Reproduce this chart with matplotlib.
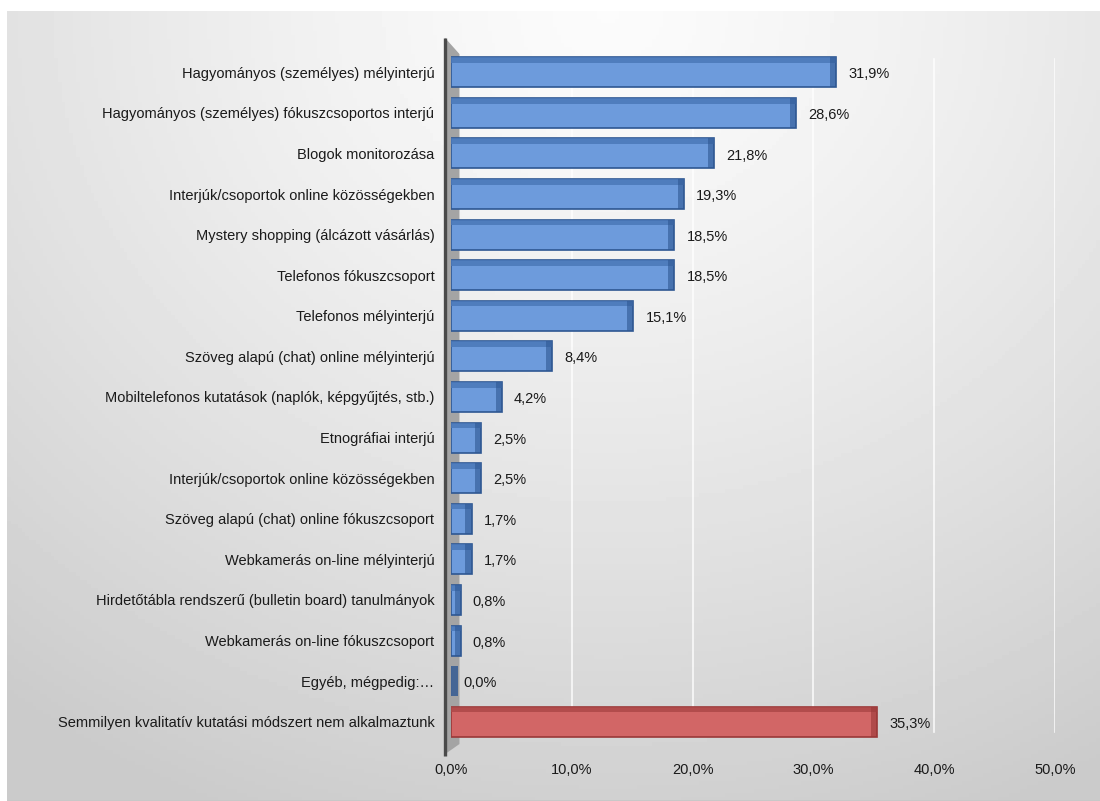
import numpy as np
import matplotlib.pyplot as plt
from matplotlib.patches import Polygon

plt.rcParams['font.family'] = ['Liberation Sans', 'DejaVu Sans']

kategoriak = [
    'Hagyományos (személyes) mélyinterjú',
    'Hagyományos (személyes) fókuszcsoportos interjú',
    'Blogok monitorozása',
    'Interjúk/csoportok online közösségekben',
    'Mystery shopping (álcázott vásárlás)',
    'Telefonos fókuszcsoport',
    'Telefonos mélyinterjú',
    'Szöveg alapú (chat) online mélyinterjú',
    'Mobiltelefonos kutatások (naplók, képgyűjtés, stb.)',
    'Etnográfiai interjú',
    'Interjúk/csoportok online közösségekben',
    'Szöveg alapú (chat) online fókuszcsoport',
    'Webkamerás on-line mélyinterjú',
    'Hirdetőtábla rendszerű (bulletin board) tanulmányok',
    'Webkamerás on-line fókuszcsoport',
    'Egyéb, mégpedig:…',
    'Semmilyen kvalitatív kutatási módszert nem alkalmaztunk',
]
ertekek = [31.9, 28.6, 21.8, 19.3, 18.5, 18.5, 15.1, 8.4, 4.2, 2.5, 2.5,
           1.7, 1.7, 0.8, 0.8, 0.0, 35.3]
xticks = [0, 10, 20, 30, 40, 50]

W, H = 1100, 801
fig = plt.figure(figsize=(W / 100, H / 100), dpi=100)
fig.patch.set_facecolor('white')

# grey background panel, lighter towards the top middle
bg = fig.add_axes([7 / W, 0, 1 - 7 / W, (H - 11) / H])
yy, xx = np.mgrid[0:1:200j, 0:1:300j]
d = np.sqrt(((xx - 0.55) / 0.9) ** 2 + (yy / 1.1) ** 2)
shade = 0.985 - 0.19 * np.clip(d, 0, 1) ** 1.3
bg.imshow(shade, cmap='gray', vmin=0, vmax=1, aspect='auto',
          extent=[0, 1, 1, 0])
bg.axhline(1.0, color='#c8c8c8', lw=2)
bg.set_xlim(0, 1)
bg.set_ylim(1, 0)
bg.axis('off')

x0, x50 = 451, 1055
ytop, ybot = 52, 742
ax = fig.add_axes([x0 / W, 1 - ybot / H, (x50 - x0) / W, (ybot - ytop) / H])
ax.patch.set_alpha(0)

n = len(ertekek)
pos = np.arange(n)
szinek = ['#6d9bdc'] * (n - 1) + ['#d26666']
szelek = ['#2e5792'] * (n - 1) + ['#9a3838']
felso = ['#4a78b8'] * (n - 1) + ['#ad4848']

# gridlines
for t in xticks[1:]:
    ax.axvline(t, ymin=0.015, ymax=0.99, color='white', lw=1.2, alpha=0.85,
               zorder=0)

# side wall of the 3D axis
wall = Polygon([(-0.5, -0.85), (0.7, -0.45), (0.7, n - 0.45), (-0.5, n - 0.2)],
               closed=True, facecolor='#a4a4a4', edgecolor='none',
               clip_on=False, zorder=1)
ax.add_patch(wall)
ax.plot([-0.5, -0.5], [-0.85, n - 0.15], color='#4a4a4a', lw=2.4,
        clip_on=False, zorder=2, solid_capstyle='butt')

h = 0.74
ax.barh(pos, ertekek, height=h, color=szinek, edgecolor=szelek, lw=1.2,
        zorder=3)
# darker top face and right side for a bit of depth
ax.barh(pos - h / 2 + 0.07, ertekek, height=0.14, color=felso, lw=0,
        zorder=4, alpha=0.85)
for i, v in enumerate(ertekek):
    ax.barh(pos[i], 0.5, left=max(v - 0.5, 0.1), height=h, color=szelek[i],
            alpha=0.6 if v > 0 else 0.8, lw=0, zorder=5)
    ax.text(v + 1.0, pos[i] + 0.05, f'{v:.1f}%'.replace('.', ','),
            va='center', ha='left', fontsize=10.5, color='#1a1a1a')

ax.set_xlim(0, 50)
ax.set_ylim(n - 0.5, -0.5)
ax.set_yticks(pos)
ax.set_yticklabels(kategoriak, fontsize=10.5, color='#1a1a1a')
ax.tick_params(axis='y', length=0, pad=12)
ax.set_xticks(xticks)
ax.set_xticklabels([f'{t:.1f}%'.replace('.', ',') for t in xticks],
                   fontsize=10.5, color='#1a1a1a')
ax.tick_params(axis='x', length=0, pad=15)
for s in ax.spines.values():
    s.set_visible(False)

fig.savefig('out.png', dpi=100)
